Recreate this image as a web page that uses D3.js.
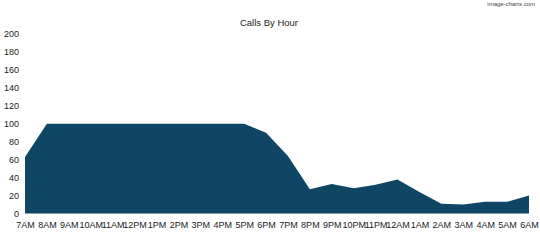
<!DOCTYPE html>
<html><head><meta charset="utf-8">
<script src="https://cdn.jsdelivr.net/npm/d3@7"></script>
<style>body{margin:0;background:#fff}svg{display:block}</style>
</head><body>
<script>
const hours = ["7AM","8AM","9AM","10AM","11AM","12PM","1PM","2PM","3PM","4PM","5PM","6PM","7PM","8PM","9PM","10PM","11PM","12AM","1AM","2AM","3AM","4AM","5AM","6AM"];
const calls = [63,100,100,100,100,100,100,100,100,100,100,90,64,27,33,28,32,38,24,11,10,13,13,20];
const yTicks = [0,20,40,60,80,100,120,140,160,180,200];

const W = 540, H = 240;
const svg = d3.select("body").append("svg").attr("width", W).attr("height", H);
const x = d3.scalePoint().domain(hours).range([25, 529]);
const y = d3.scaleLinear().domain([0, 200]).range([213.5, 34]);

const area = d3.area().x((d,i)=>x(hours[i])).y0(y(0)).y1(d=>y(d));
svg.append("path").datum(calls).attr("d", area).attr("fill", "#0f4666");

const font = "Liberation Sans, Arial, sans-serif";
const yAxis = svg.append("g").attr("transform","translate(25,0)")
  .call(d3.axisLeft(y).tickValues(yTicks).tickSize(0).tickPadding(6));
yAxis.select(".domain").remove();
yAxis.selectAll("text").attr("font-family", font).attr("font-size", 9).attr("fill", "#222");

const xAxis = svg.append("g").attr("transform","translate(0,"+y(0)+")")
  .call(d3.axisBottom(x).tickSize(0).tickPadding(0));
xAxis.select(".domain").remove();
xAxis.selectAll("text").attr("dy", null).attr("y", 14.5).attr("font-family", font).attr("font-size", 9).attr("fill", "#222");

svg.append("text").attr("x", 269).attr("y", 26).attr("text-anchor","middle")
  .attr("font-family", font).attr("font-size", 9.5).attr("fill","#222").text("Calls By Hour");
svg.append("text").attr("x", 535).attr("y", 6).attr("text-anchor","end")
  .attr("font-family", font).attr("font-size", 6).attr("fill","#444").text("image-charts.com");
</script>
</body></html>
